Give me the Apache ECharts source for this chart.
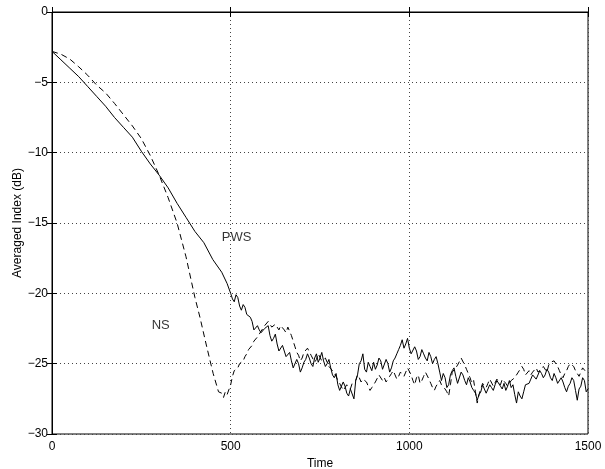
<!DOCTYPE html>
<html>
<head>
<meta charset="utf-8">
<script src="https://cdn.jsdelivr.net/npm/echarts@6/dist/echarts.min.js"></script>
<style>html,body{margin:0;padding:0;background:#fff}#c{width:605px;height:469px}</style>
</head>
<body>
<div id="c"></div>
<script>
const xTicks = [0, 500, 1000, 1500];
const yTicks = [-30, -25, -20, -15, -10, -5, 0];

// PWS (solid): smooth decay part
const pwsSmoothTime = [0,25,50,75,100,125,150,175,200,225,250,275,300,325,350,375,400,425,450,475,490];
const pwsSmoothValue = [-2.8,-3.4,-4.0,-4.6,-5.3,-6.0,-6.7,-7.5,-8.2,-8.9,-9.9,-10.8,-11.6,-12.5,-13.6,-14.6,-15.6,-16.4,-17.6,-18.5,-19.3];
// PWS noisy part, sampled every 5 time units from 500
const pwsNoisyStart = 500;
const pwsNoisyValue = [
  -20.0,-20.4,-20.6,-20.1,-20.3,-20.9,-21.2,-20.8,-21.0,-21.5,-21.4,-21.7,-22.0,-22.6,-22.5,-22.3,-22.6,-22.8,-22.9,-22.5,
  -22.6,-22.3,-23.0,-23.4,-23.2,-22.9,-23.6,-24.1,-24.0,-23.7,-24.1,-24.5,-24.6,-24.2,-24.8,-25.3,-25.2,-24.7,-25.0,-25.6,
  -25.3,-24.9,-24.7,-24.3,-24.6,-25.0,-25.2,-24.6,-24.3,-24.9,-24.6,-24.2,-24.8,-25.2,-25.0,-24.7,-25.3,-25.8,-26.0,-25.7,
  -26.5,-26.9,-26.8,-26.3,-26.6,-27.1,-27.3,-26.8,-26.9,-27.5,-26.2,-25.8,-25.0,-24.8,-24.3,-25.4,-25.6,-24.9,-25.2,-25.5,
  -24.9,-25.4,-25.1,-24.6,-24.8,-25.4,-25.3,-24.7,-25.0,-25.6,-25.3,-24.8,-24.6,-24.3,-24.0,-23.7,-23.3,-23.9,-23.6,-23.2,
  -23.9,-24.3,-24.4,-23.8,-24.1,-24.7,-24.5,-24.0,-24.3,-24.6,-24.8,-24.2,-24.5,-25.0,-24.7,-24.5,-25.0,-25.6,-26.2,-25.7,
  -26.0,-26.7,-26.5,-25.8,-25.5,-25.3,-25.9,-26.4,-26.3,-25.6,-25.8,-26.2,-26.5,-26.0,-26.3,-26.7,-26.9,-27.1,-27.6,-27.2,
  -27.0,-26.5,-26.8,-27.1,-27.2,-26.5,-26.7,-26.9,-26.5,-26.2,-26.3,-26.6,-26.8,-26.4,-26.9,-26.6,-26.2,-26.7,-26.5,-27.2,
  -27.8,-27.0,-27.3,-27.5,-27.0,-26.5,-26.6,-26.4,-26.1,-25.8,-25.7,-26.1,-26.0,-25.5,-25.7,-26.0,-25.8,-25.4,-25.6,-26.0,
  -26.2,-25.7,-26.0,-26.4,-26.5,-26.0,-26.3,-26.7,-27.0,-26.6,-26.4,-26.0,-26.2,-26.9,-27.6,-26.8,-26.6,-26.0,-26.2,-27.0,
  -26.8];

// NS (dashed): smooth decay part
const nsSmoothTime = [0,25,50,75,100,125,150,175,200,225,250,275,300,325,350,375,400,414,433,451,466,475];
const nsSmoothValue = [-2.8,-3.0,-3.35,-3.9,-4.5,-5.2,-5.75,-6.5,-7.3,-8.1,-9.0,-10.2,-11.6,-13.2,-15.0,-17.4,-20.3,-21.7,-23.8,-25.7,-27.0,-27.1];
// NS noisy part, sampled every 5 time units from 480
const nsNoisyStart = 480;
const nsNoisyValue = [
  -27.4,-27.0,-27.2,-27.3,-26.5,-25.9,-25.5,-25.6,-25.3,-25.0,-25.1,-24.8,-24.5,-24.3,-24.0,-23.9,-23.7,-23.4,-23.3,-23.1,
  -23.0,-22.7,-22.5,-22.3,-22.2,-22.0,-22.1,-22.4,-22.3,-22.2,-22.4,-22.6,-22.3,-22.2,-22.6,-22.8,-22.4,-22.7,-23.0,-23.4,
  -23.8,-24.2,-24.4,-24.8,-24.6,-24.2,-24.3,-23.9,-24.0,-24.4,-24.5,-24.9,-24.7,-24.3,-24.4,-24.8,-24.7,-24.6,-24.9,-25.2,
  -25.3,-25.5,-25.7,-25.9,-26.2,-26.4,-26.5,-26.9,-26.7,-26.5,-26.6,-26.8,-26.4,-26.3,-26.2,-25.8,-26.0,-26.3,-26.1,-26.0,
  -26.3,-26.6,-26.9,-26.7,-26.5,-26.3,-26.2,-25.8,-25.9,-26.2,-26.0,-26.3,-26.2,-25.9,-25.7,-25.5,-25.8,-26.1,-25.9,-25.6,
  -25.6,-25.9,-25.6,-25.3,-25.4,-25.8,-26.2,-26.5,-26.0,-25.8,-26.4,-26.2,-25.9,-25.6,-25.7,-26.1,-26.4,-26.7,-26.9,-26.6,
  -26.4,-26.2,-26.5,-26.6,-26.8,-27.0,-27.3,-26.5,-25.6,-25.5,-25.3,-25.1,-25.0,-24.6,-24.7,-25.1,-25.4,-25.7,-26.0,-26.4,
  -26.2,-27.0,-27.8,-27.2,-26.8,-26.4,-26.5,-26.7,-26.4,-26.1,-26.2,-26.6,-26.5,-26.1,-26.3,-26.5,-26.1,-26.0,-26.4,-26.6,
  -26.5,-26.2,-26.3,-26.0,-25.9,-25.6,-25.5,-25.2,-25.4,-25.8,-25.7,-25.5,-25.8,-25.6,-25.5,-25.3,-25.6,-25.7,-25.4,-25.2,
  -25.3,-25.6,-25.1,-24.9,-25.0,-24.8,-24.9,-25.2,-25.5,-25.8,-26.0,-25.7,-25.5,-25.2,-25.0,-24.9,-25.2,-25.5,-25.7,-25.9,
  -25.6,-25.3,-25.3,-25.6,-25.5];

const seriesNames = ['PWS', 'NS'];
const labelPos = [[475, -16.06], [279, -22.25]];
const NOISY_STEP = 5;

const FONT = '"Liberation Sans", Arial, Helvetica, sans-serif';
const buildSeries = (st, sv, start, nv) =>
  st.map((x, i) => [x, sv[i]]).concat(nv.map((v, i) => [start + NOISY_STEP * i, v]));
const minus = v => String(v).replace('-', '\u2212');

const chart = echarts.init(document.getElementById('c'), null, {renderer: 'canvas'});
const gridLine = {show: true, lineStyle: {color: '#444', type: [1, 3], width: 1}};
const axisCommon = {
  axisLine: {show: true, lineStyle: {color: '#000', width: 1}},
  axisTick: {show: true, inside: true, length: 5, lineStyle: {color: '#000'}},
};
chart.setOption({
  animation: false,
  backgroundColor: '#fff',
  grid: {left: 52, right: 17, top: 12, bottom: 35, show: true, borderColor: '#000', borderWidth: 1,
         containLabel: false, outerBoundsMode: 'none'},
  xAxis: [{
    type: 'value', min: xTicks[0], max: xTicks[xTicks.length - 1], interval: 500,
    name: 'Time', nameLocation: 'middle', nameGap: 24, nameMoveOverlap: false,
    nameTextStyle: {color: '#000', fontSize: 12, fontFamily: FONT},
    axisLabel: {color: '#000', fontSize: 12, fontFamily: FONT, margin: 7, formatter: v => minus(v)},
    splitLine: gridLine, ...axisCommon
  }, {
    type: 'value', position: 'top', min: xTicks[0], max: xTicks[xTicks.length - 1], interval: 500,
    axisLabel: {show: false}, splitLine: {show: false}, ...axisCommon
  }],
  yAxis: [{
    type: 'value', min: yTicks[0], max: yTicks[yTicks.length - 1], interval: 5,
    name: 'Averaged Index (dB)', nameLocation: 'middle', nameGap: 28, nameMoveOverlap: false,
    nameTextStyle: {color: '#000', fontSize: 12, fontFamily: FONT},
    axisLabel: {color: '#000', fontSize: 12, fontFamily: FONT, margin: 4, formatter: v => minus(v)},
    splitLine: gridLine, ...axisCommon
  }, {
    type: 'value', position: 'right', min: yTicks[0], max: yTicks[yTicks.length - 1], interval: 5,
    axisLabel: {show: false}, splitLine: {show: false}, ...axisCommon
  }],
  series: [
    {name: seriesNames[0], type: 'line', data: buildSeries(pwsSmoothTime, pwsSmoothValue, pwsNoisyStart, pwsNoisyValue),
     showSymbol: false, symbol: 'none', lineStyle: {color: '#000', width: 1}, z: 3},
    {name: seriesNames[1], type: 'line', data: buildSeries(nsSmoothTime, nsSmoothValue, nsNoisyStart, nsNoisyValue),
     showSymbol: false, symbol: 'none', lineStyle: {color: '#000', width: 1, type: [6, 4]}, z: 3},
    {type: 'scatter', symbolSize: 0, data: labelPos.map((p, i) => ({value: p, name: seriesNames[i]})),
     label: {show: true, position: 'right', distance: 0, formatter: p => p.name,
             color: '#000', fontSize: 13, fontFamily: FONT}, silent: true, z: 4}
  ]
});
</script>
</body>
</html>
